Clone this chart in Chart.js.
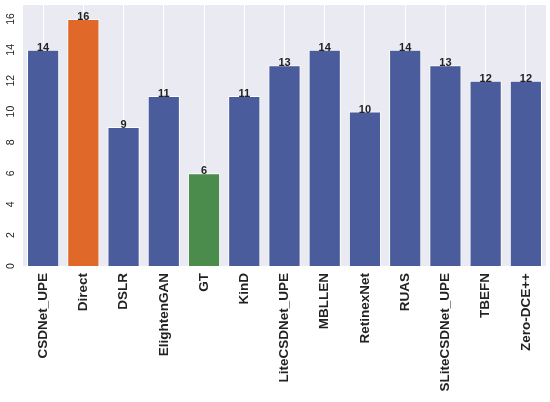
<!DOCTYPE html>
<html>
<head>
<meta charset="utf-8">
<script src="https://cdn.jsdelivr.net/npm/chart.js@4"></script>
<style>
  html, body { margin: 0; padding: 0; background: #fff; }
  #wrap { width: 550px; height: 402px; }
</style>
</head>
<body>
<div id="wrap"><canvas id="myChart"></canvas></div>
<script>
// data
const methods = ["CSDNet_UPE", "Direct", "DSLR", "ElightenGAN", "GT", "KinD",
  "LiteCSDNet_UPE", "MBLLEN", "RetinexNet", "RUAS", "SLiteCSDNet_UPE", "TBEFN", "Zero-DCE++"];
const counts = [14, 16, 9, 11, 6, 11, 13, 14, 10, 14, 13, 12, 12];
const yTicks = [0, 2, 4, 6, 8, 10, 12, 14, 16];

const blue = '#4a5c9b';
const orange = '#e0692a';
const green = '#4b8b4c';
const barColors = methods.map(m => m === 'Direct' ? orange : (m === 'GT' ? green : blue));

const ctx = document.getElementById('myChart');

// bar value labels on top of each bar
const valueLabels = {
  id: 'valueLabels',
  afterDatasetsDraw(chart) {
    const c = chart.ctx;
    const meta = chart.getDatasetMeta(0);
    c.save();
    c.font = 'bold 11px "Liberation Sans", Arial, sans-serif';
    c.fillStyle = '#222';
    c.textAlign = 'center';
    c.textBaseline = 'alphabetic';
    meta.data.forEach((bar, i) => {
      c.fillText(String(counts[i]), bar.x, bar.y + 1);
    });
    c.restore();
  }
};

// plot area background
const plotBg = {
  id: 'plotBg',
  beforeDraw(chart) {
    const a = chart.chartArea;
    chart.ctx.save();
    chart.ctx.fillStyle = '#eaeaf2';
    chart.ctx.fillRect(a.left, a.top, a.right - a.left, a.bottom - a.top);
    chart.ctx.restore();
  }
};

var myChart = new Chart(ctx, {
  type: 'bar',
  data: {
    labels: methods,
    datasets: [{
      data: counts,
      backgroundColor: barColors,
      borderColor: '#ffffff',
      borderWidth: 1,
      barPercentage: 0.8,
      categoryPercentage: 1.0
    }]
  },
  options: {
    responsive: true,
    maintainAspectRatio: false,
    animation: false,
    layout: { autoPadding: false, padding: { top: 5, right: 4, left: 0, bottom: 0 } },
    plugins: {
      legend: { display: false },
      tooltip: { enabled: false }
    },
    scales: {
      x: {
        grid: { color: '#ffffff', lineWidth: 1, drawTicks: false, offset: false },
        border: { display: false },
        ticks: {
          minRotation: 90,
          maxRotation: 90,
          padding: 7,
          autoSkip: false,
          color: '#222',
          font: { family: '"Liberation Sans", Arial, sans-serif', size: 13.5, weight: 'bold' }
        },
        afterFit(scale) {
          scale.height = 136;
          scale.paddingLeft = 0;
          scale.paddingRight = 0;
        }
      },
      y: {
        min: 0,
        max: 16.9,
        grid: { display: false, drawTicks: false },
        border: { display: false },
        afterBuildTicks(scale) { scale.ticks = yTicks.map(v => ({ value: v })); },
        ticks: {
          minRotation: 90,
          maxRotation: 90,
          crossAlign: 'center',
          padding: 6,
          color: '#222',
          font: { family: '"Liberation Sans", Arial, sans-serif', size: 10.5 }
        },
        afterFit(scale) {
          scale.width = 23;
          scale.paddingTop = 0;
          scale.paddingBottom = 0;
        }
      }
    }
  },
  plugins: [plotBg, valueLabels]
});
</script>
</body>
</html>
